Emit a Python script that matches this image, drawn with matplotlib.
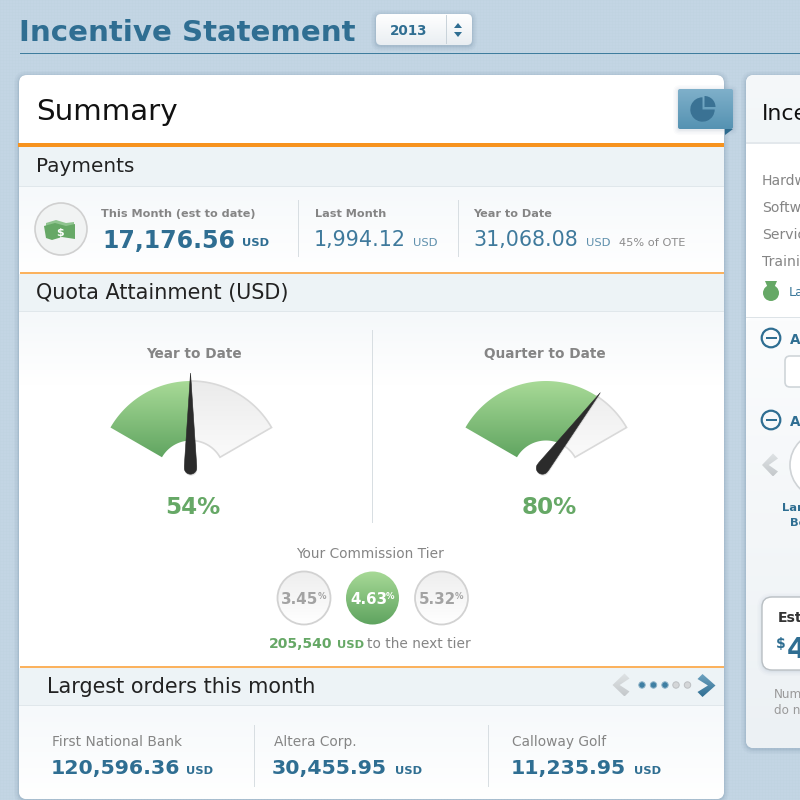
"""Incentive statement dashboard, drawn on a pixel canvas."""
import numpy as np
import matplotlib.pyplot as plt
from matplotlib.colors import LinearSegmentedColormap
from matplotlib.patches import Circle, FancyBboxPatch, Polygon, Rectangle, Wedge

# Values
PAY_LABELS = ["This Month (est to date)", "Last Month", "Year to Date"]
PAY_VALUES = ["17,176.56", "1,994.12", "31,068.08"]
OTE_NOTE = "45% of OTE"
GAUGE_LABELS = ["Year to Date", "Quarter to Date"]
GAUGE_PCT = [54, 80]
NEEDLE_DEG = [0, 37.5]
FILL_DEG = [0, 33]
TIER_VALUES = ["3.45", "4.63", "5.32"]
ACTIVE_TIER = 1
TO_NEXT_TIER = "205,540"
ORDER_NAMES = ["First National Bank", "Altera Corp.", "Calloway Golf"]
ORDER_VALUES = ["120,596.36", "30,455.95", "11,235.95"]
SIDE_ROWS = ["Hardw", "Softw", "Servic", "Trainin"]
PAGE_DOTS_ON = [1, 1, 1, 0, 0]

BLUE = "#2f6e92"
MID_BLUE = "#3f7a9c"
GREEN = "#66a866"
GRAY = "#858585"
BAND = "#edf3f6"
ORANGE = "#f7931e"
ORANGE_THIN = "#fbb25e"

fig = plt.figure(figsize=(8, 8), dpi=100)
ax = fig.add_axes([0, 0, 1, 1])
ax.axis("off")


def txt(x, y, s, px, color="#222222", weight="normal", ha="left", **kw):
    # px is the font size in image pixels, y nudged to sit on the reference baselines
    return ax.text(x, y - 1.5, s, fontsize=px * 0.72, color=color, weight=weight, ha=ha,
                   va="center_baseline", family="DejaVu Sans", **kw)


def grad(x0, y0, x1, y1, c0, c1, clip=None, z=1):
    """Vertical gradient from c0 at y0 to c1 at y1, optionally clipped."""
    cmap = LinearSegmentedColormap.from_list("g", [c0, c1])
    im = ax.imshow(np.linspace(0, 1, 128).reshape(-1, 1), cmap=cmap, aspect="auto",
                   extent=(x0, x1, y1, y0), zorder=z, interpolation="bilinear")
    if clip is not None:
        im.set_clip_path(clip)
    return im


def rbox(x0, y0, x1, y1, r, z=1, fc="none", ec="none", lw=0, alpha=None):
    p = FancyBboxPatch((x0 + r, y0 + r), x1 - x0 - 2 * r, y1 - y0 - 2 * r,
                       boxstyle=f"round,pad={r},rounding_size={r}",
                       fc=fc, ec=ec, lw=lw, alpha=alpha, zorder=z)
    ax.add_patch(p)
    return p


def rect(x0, y0, x1, y1, color, z=2):
    ax.add_patch(Rectangle((x0, y0), x1 - x0, y1 - y0, fc=color, ec="none", zorder=z))


def shadow(x0, y0, x1, y1, r, z=1, k=1.0):
    for grow, a in zip((5, 3.5, 2, 1), (0.035, 0.045, 0.05, 0.07)):
        rbox(x0 - grow, y0 - grow + 1, x1 + grow, y1 + grow + 1, r + grow, z=z,
             fc="#3a5f7d", alpha=a * k)


def sector_points(cx, cy, r_in, r_out, a0, a1):
    # angles measured clockwise from straight up, y axis points down
    t = np.radians(np.linspace(a0, a1, 60))
    outer = np.c_[cx + r_out * np.sin(t), cy - r_out * np.cos(t)]
    inner = np.c_[cx + r_in * np.sin(t[::-1]), cy - r_in * np.cos(t[::-1])]
    return np.vstack([outer, inner])


def needle(hx, hy, deg, length=95, half=6.2):
    t = np.radians(np.linspace(90, 270, 20))
    cap = np.c_[half * np.sin(t), -half * np.cos(t)]
    local = np.vstack([[[0, -length]], [[half, -2]], cap[1:-1], [[-half, -2]]])
    a = np.radians(deg)
    rot = np.array([[np.cos(a), -np.sin(a)], [np.sin(a), np.cos(a)]])
    pts = local @ rot.T + [hx, hy]
    ax.add_patch(Polygon(pts + [0.5, 1.5], fc="#000000", alpha=0.12, ec="none", zorder=6))
    ax.add_patch(Polygon(pts, fc="#2b2b2b", ec="#2b2b2b", lw=0.4, zorder=7))


def chevron(cx, cy, w, h, direction, color, dark):
    d = direction
    th = w * 0.42
    pts = [(cx - d * w / 2, cy - h / 2 + 5), (cx - d * w / 2 + d * 5, cy - h / 2),
           (cx + d * w / 2, cy), (cx - d * w / 2 + d * 5, cy + h / 2),
           (cx - d * w / 2, cy + h / 2 - 5), (cx + d * w / 2 - d * th, cy)]
    patch = Polygon(pts, fc="none", ec="none", zorder=5)
    ax.add_patch(patch)
    grad(cx - w, cy - h / 2, cx + w, cy + h / 2, color, dark, clip=patch, z=5)


# page background with a faint woven texture
yy, xx = np.mgrid[0:800, 0:800]
tex = -0.005 * ((xx % 3 == 0).astype(float) + (yy % 3 == 0))
bg = np.dstack([np.full((800, 800), c) + tex for c in (0.765, 0.838, 0.895)])
ax.imshow(np.clip(bg, 0, 1), extent=(0, 800, 800, 0), aspect="auto", zorder=0,
          interpolation="nearest")

# page header
txt(19, 31.5, "Incentive Statement", 29.3, color=BLUE, weight="bold")
rect(20, 53, 800, 54, "#3f7d9e")
shadow(376, 14, 472, 45, 5, z=1)
sel = rbox(376, 14, 472, 45, 5, z=2, fc="none")
grad(376, 14, 472, 45, "#ffffff", "#e9eef2", clip=sel, z=2)
rect(446, 15, 447, 44, "#c9d3da", z=3)
txt(409, 31, "2013", 13.5, color=BLUE, weight="bold", ha="center", zorder=4)
ax.add_patch(Polygon([(454, 28), (462, 28), (458, 23)], fc=BLUE, ec="none", zorder=4))
ax.add_patch(Polygon([(454, 32), (462, 32), (458, 37)], fc=BLUE, ec="none", zorder=4))

# summary card
shadow(19, 75, 724, 799, 8, z=1)
rbox(19, 75, 724, 799, 8, z=2, fc="#ffffff")
rect(18, 143, 724, 147, ORANGE, z=4)
rect(19, 147, 724, 186, BAND, z=3)
rect(19, 186, 724, 187, "#e0e7eb", z=3)
grad(19, 187, 724, 272, "#f6f9fb", "#ffffff", z=3)
rect(20, 272, 724, 273.5, ORANGE_THIN, z=4)
rect(19, 273.5, 724, 311, BAND, z=3)
rect(19, 311, 724, 312, "#e0e7eb", z=3)
grad(19, 312, 724, 385, "#f5f8fa", "#ffffff", z=3)
rect(20, 666, 724, 667.5, ORANGE_THIN, z=4)
rect(19, 667.5, 724, 705, BAND, z=3)
rect(19, 705, 724, 706, "#e0e7eb", z=3)
card_low = rbox(19, 500, 724, 799, 8, z=1, fc="none")
grad(19, 706, 724, 799, "#f6f9fb", "#ffffff", clip=card_low, z=3)

txt(36, 111, "Summary", 29.4, color="#111111", zorder=5)
txt(36, 166.5, "Payments", 20, zorder=5)
txt(36, 292.5, "Quota Attainment (USD)", 20.8, zorder=5)
txt(47, 686.5, "Largest orders this month", 20.8, zorder=5)

# corner ribbon with pie icon
ax.add_patch(Polygon([(725, 129), (733, 129), (725, 135)], fc="#2d6a8d", ec="none", zorder=5))
shadow(678, 89, 733, 129, 2, z=4, k=0.6)
rib = rbox(678, 89, 733, 129, 2, z=5, fc="none")
grad(678, 89, 733, 129, "#7fb0ca", "#5592b2", clip=rib, z=5)
ax.add_patch(Wedge((702.5, 109.5), 12.2, 0, 270, fc="#3a7294", ec="none", zorder=6))
ax.add_patch(Wedge((704.5, 107), 11, -90, 0, fc="#3a7294", ec="none", zorder=6))

# payments row
ax.add_patch(Circle((61, 229), 26, fc="#f1f3f3", ec="#d0d0d0", lw=1.2, zorder=5))
ax.add_patch(Polygon([(46, 223), (56, 220), (66, 223), (74, 222), (74, 226), (46, 228)],
                     fc="#8fc48f", ec="none", zorder=6))
ax.add_patch(Polygon([(44, 226), (55, 223), (66, 226), (75, 224), (75, 239), (62, 237),
                      (52, 240), (46, 238)], fc=GREEN, ec="none", zorder=6))
txt(60, 233, "$", 11, color="#ffffff", weight="bold", ha="center", zorder=7)
txt(101, 214.5, PAY_LABELS[0], 11.3, color=GRAY, weight="bold", zorder=5)
txt(102, 240, PAY_VALUES[0], 23.6, color=BLUE, weight="bold", zorder=5)
txt(242, 244, "USD", 11.5, color=BLUE, weight="bold", zorder=5)
rect(298, 200, 299, 257, "#d8dee2", z=5)
txt(315, 214.5, PAY_LABELS[1], 11.3, color=GRAY, weight="bold", zorder=5)
txt(314, 240, PAY_VALUES[1], 20.6, color=MID_BLUE, zorder=5)
txt(413, 243.5, "USD", 11.5, color="#5f90ac", zorder=5)
rect(458, 200, 459, 257, "#d8dee2", z=5)
txt(473, 214.5, PAY_LABELS[2], 11.3, color=GRAY, weight="bold", zorder=5)
txt(473, 240, PAY_VALUES[2], 20.6, color=MID_BLUE, zorder=5)
txt(586, 243.5, "USD", 11.5, color="#5f90ac", zorder=5)
txt(619, 243.5, OTE_NOTE, 11.4, color="#8c8c8c", zorder=5)

# gauges
rect(372, 330, 373, 523, "#d8dee2", z=5)
GAUGE_CX = [191, 546]
HUB_X = [190.5, 542.5]
for i, cx in enumerate(GAUGE_CX):
    cy = 474
    txt(cx + 3 if i == 0 else cx - 1.5, 354.5, GAUGE_LABELS[i], 13.6, color=GRAY, weight="bold",
        ha="center", zorder=5)
    rest = Polygon(sector_points(cx, cy, 33.5, 93, FILL_DEG[i], 60), fc="none",
                   ec="#d9d9d9", lw=1.2, zorder=5)
    ax.add_patch(rest)
    grad(cx - 95, 381, cx + 95, 460, "#ebebeb", "#fbfbfb", clip=rest, z=4)
    done = Polygon(sector_points(cx, cy, 33.5, 93, -60, FILL_DEG[i]), fc="none", ec="none", zorder=5)
    ax.add_patch(done)
    grad(cx - 95, 381, cx + 95, 460, "#a8da97", "#5ea35f", clip=done, z=5)
    needle(HUB_X[i], 468, NEEDLE_DEG[i])
    txt(cx + 2 if i == 0 else cx + 3, 506.5, f"{GAUGE_PCT[i]}%", 23, color=GREEN, weight="bold",
        ha="center", zorder=5)

# commission tier
txt(370, 554, "Your Commission Tier", 13.8, color=GRAY, ha="center", zorder=5)
TIER_CX = [304, 372.5, 441.5]
for i, cx in enumerate(TIER_CX):
    on = i == ACTIVE_TIER
    c = Circle((cx, 598), 26.5, fc="none", ec="none" if on else "#d2d2d2", lw=1.3, zorder=6)
    ax.add_patch(c)
    grad(cx - 28, 571, cx + 28, 625, *(("#a8da97", "#5ea35f") if on else ("#eeeeee", "#ffffff")),
         clip=c, z=5)
    tc = "#ffffff" if on else "#a3a3a3"
    txt(cx - 4, 600, TIER_VALUES[i], 15, color=tc, weight="bold", ha="center", zorder=7)
    txt(cx + 17.5, 597, "%", 8.5, color=tc, weight="bold", ha="center", zorder=7)
txt(269, 644.5, TO_NEXT_TIER, 14, color=GREEN, weight="bold", zorder=5)
txt(337, 645, "USD", 11.5, color=GREEN, weight="bold", zorder=5)
txt(367, 644.5, "to the next tier", 13.8, color=GRAY, zorder=5)

# pager
chevron(621, 685, 17, 23, -1, "#dfe3e5", "#c4c8cb")
for x, is_on in zip([642, 653.5, 665, 676, 687.5], PAGE_DOTS_ON):
    ax.add_patch(Circle((x, 685), 3.2, fc="#3f7fa3" if is_on else "#d4d6d8",
                        ec="#8fb3c8" if is_on else "#bcbfc2", lw=0.7, zorder=5))
chevron(706.5, 685.5, 18, 23, 1, "#6ea3c1", "#2f6e92")

# largest orders
NAME_X = [52, 274, 512]
VALUE_X = [51, 272, 511]
USD_X = [186, 395, 634]
for i in range(3):
    txt(NAME_X[i], 742, ORDER_NAMES[i], 13.8, color=GRAY, zorder=5)
    txt(VALUE_X[i], 768, ORDER_VALUES[i], 20.5, color=BLUE, weight="bold", zorder=5)
    txt(USD_X[i], 771.5, "USD", 11.5, color=BLUE, weight="bold", zorder=5)
rect(254, 725, 255, 787, "#d8dee2", z=5)
rect(488, 725, 489, 787, "#d8dee2", z=5)

# right hand card, cut off by the image edge
shadow(746, 75, 830, 748, 8, z=1)
rbox(746, 75, 830, 748, 8, z=2, fc="#ffffff")
head = rbox(746, 75, 830, 200, 8, z=2, fc="none")
grad(746, 75, 800, 142, "#f5f8fa", "#f2f6f8", clip=head, z=3)
rect(746, 142, 800, 144, "#e3e8ec", z=3)
rect(746, 317, 800, 318, "#dde3e7", z=3)
low = rbox(746, 318, 830, 748, 8, z=2, fc="none")
grad(746, 318, 800, 748, "#fbfcfd", "#ecf1f4", clip=low, z=3)

txt(762, 113, "Ince", 22, color="#111111", zorder=5, clip_on=True)
for y, s in zip([181, 208, 235, 262], SIDE_ROWS):
    txt(762, y, s, 14, color=GRAY, zorder=5, clip_on=True)
ax.add_patch(Circle((771, 293), 8, fc=GREEN, ec="none", zorder=5))
ax.add_patch(Polygon([(765, 281), (777, 281), (774, 288), (768, 288)], fc=GREEN, ec="none", zorder=5))
txt(789, 292, "La", 13, color=MID_BLUE, zorder=5, clip_on=True)
for y in (338, 420):
    ax.add_patch(Circle((771, y), 9.3, fc="none", ec=BLUE, lw=1.6, zorder=5))
    rect(765.5, y - 0.8, 776.5, y + 0.8, BLUE, z=5)
    txt(790, y + 1.5, "A", 13.5, color=BLUE, weight="bold", zorder=5)
rbox(785, 356, 830, 387, 5, z=5, fc="#ffffff", ec="#cfd5d9", lw=1.2)
chevron(770, 465, 16, 23, -1, "#dfe3e5", "#c4c8cb")
ax.add_patch(Circle((823, 465), 33, fc="#ffffff", ec="#cfd3d6", lw=1.2, zorder=5))
txt(782, 508.5, "Lar", 11.5, color=BLUE, weight="bold", zorder=5, clip_on=True)
txt(790, 524, "Be", 11.5, color=BLUE, weight="bold", zorder=5)
shadow(762, 597, 840, 670, 10, z=4, k=0.5)
rbox(762, 597, 840, 670, 10, z=5, fc="#ffffff", ec="#b9bfc3", lw=1)
txt(778, 618.5, "Est", 14, color="#333333", weight="bold", zorder=6)
txt(776, 644, "$", 14, color=BLUE, weight="bold", zorder=6)
txt(787, 649, "4", 29, color=BLUE, weight="bold", zorder=6)
txt(774, 695, "Num", 12, color="#9a9a9a", zorder=5)
txt(774, 711, "do n", 12, color="#9a9a9a", zorder=5)

ax.set_xlim(0, 800)
ax.set_ylim(800, 0)
fig.savefig("out.png", dpi=100)
